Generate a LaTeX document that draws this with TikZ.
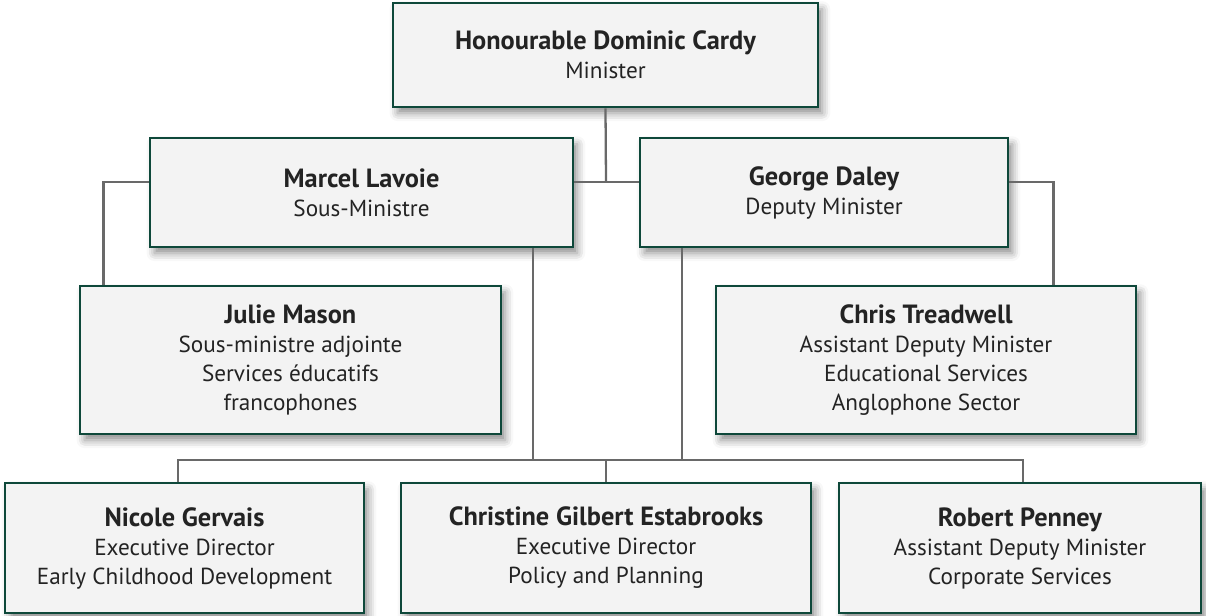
\documentclass[tikz,border=0pt]{standalone}
\usepackage{fontspec}
\setmainfont{PT Sans}
\usetikzlibrary{shadows.blur}
\definecolor{boxgreen}{RGB}{14,72,58}
\definecolor{boxfill}{RGB}{243,243,243}
\definecolor{linegray}{RGB}{105,105,105}
\definecolor{textgray}{RGB}{35,35,35}
\newcommand{\who}[1]{{\fontsize{15}{16.5}\selectfont\bfseries #1}}
\begin{document}
\begin{tikzpicture}[x=0.02cm, y=-0.02cm,
    person/.style={draw=boxgreen, line width=1.6pt, fill=boxfill, align=center,
      text=textgray, font=\fontsize{13.2}{16.5}\selectfont, inner sep=0pt,
      blur shadow={shadow xshift=2.5pt, shadow yshift=-3.5pt, shadow opacity=45, shadow blur radius=4.5pt}},
    link/.style={draw=linegray, line width=1.3pt}]
      \useasboundingbox (0,0) rectangle (1206,615);

      % PEOPLE
      % minister
      \node[person, minimum width=8.5cm, minimum height=2.08cm] (cardy) at (605.5,55)
        {\who{Honourable Dominic Cardy}\\Minister};

      % deputies
      \node[person, minimum width=8.46cm, minimum height=2.18cm] (lavoie) at (361.5,192.5)
        {\who{Marcel Lavoie}\\Sous-Ministre};
      \node[person, minimum width=7.36cm, minimum height=2.18cm] (daley) at (824,192.5)
        {\who{George Daley}\\Deputy Minister};

      % assistant deputies
      \node[person, minimum width=8.42cm, minimum height=2.96cm] (mason) at (290.5,360)
        {\who{Julie Mason}\\Sous-ministre adjointe\\Services éducatifs\\francophones};
      \node[person, minimum width=8.4cm, minimum height=2.96cm] (treadwell) at (926,360)
        {\who{Chris Treadwell}\\Assistant Deputy Minister\\Educational Services\\Anglophone Sector};

      % shared
      \node[person, minimum width=7.18cm, minimum height=2.6cm] (gervais) at (184.5,548)
        {\who{Nicole Gervais}\\Executive Director\\Early Childhood Development};
      \node[person, minimum width=8.2cm, minimum height=2.6cm] (estabrooks) at (606,548)
        {\who{Christine Gilbert Estabrooks}\\Executive Director\\Policy and Planning};
      \node[person, minimum width=7.24cm, minimum height=2.6cm] (penney) at (1020,548)
        {\who{Robert Penney}\\Assistant Deputy Minister\\Corporate Services};

      % LINES
      \coordinate (hub) at (606,182);
      \coordinate (bus) at (606,460);
      \draw[link] (cardy.south) -- (hub);
      \draw[link] (lavoie.east |- hub) -- (daley.west |- hub);
      \draw[link] (lavoie.west |- hub) -| ([xshift=0.5cm]mason.north west);
      \draw[link] (daley.east |- hub) -| ([xshift=-1.68cm]treadwell.north east);
      \draw[link] ([xshift=3.43cm]lavoie.south) -- ([xshift=3.43cm]lavoie.south |- bus);
      \draw[link] ([xshift=-2.84cm]daley.south) -- ([xshift=-2.84cm]daley.south |- bus);
      \draw[link] ([xshift=-0.13cm]gervais.north) |- (bus) -| ([xshift=0.06cm]penney.north);
      \draw[link] (bus) -- (estabrooks.north);
    \end{tikzpicture}
\end{document}
